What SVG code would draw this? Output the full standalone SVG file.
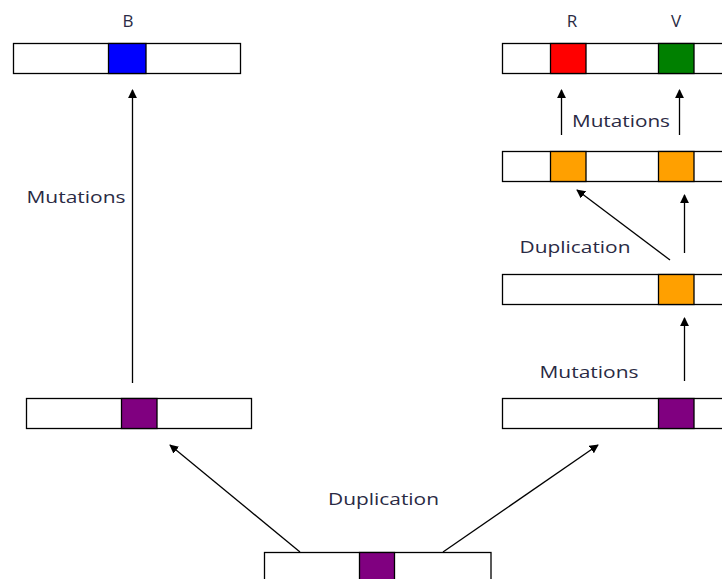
<svg xmlns="http://www.w3.org/2000/svg" width="722" height="579" viewBox="0 0 722 579">
<style>
.bar{fill:#fff;stroke:#000;stroke-width:1.3}
.cell{stroke:#000;stroke-width:1.3}
.lbl{font-family:"Open Sans","Noto Sans",sans-serif;font-size:17px;fill:#2a2a44}
.conn{stroke:#000;stroke-width:1.3;fill:none;marker-end:url(#ah)}
</style>
<defs>
<marker id="ah" viewBox="0 0 10 10" refX="9" refY="5" markerWidth="9" markerHeight="9" markerUnits="userSpaceOnUse" orient="auto">
<path d="M0,0 L10,5 L0,10 z" fill="#000"/>
</marker>
</defs>
<rect width="722" height="579" fill="#fff"/>
<g id="connectors">
<line class="conn" x1="132.5" y1="383" x2="132.5" y2="90"/>
<line class="conn" x1="300" y1="552" x2="170" y2="445"/>
<line class="conn" x1="443" y1="552" x2="598" y2="445"/>
<line class="conn" x1="684.5" y1="381" x2="684.5" y2="318"/>
<line class="conn" x1="684.5" y1="253" x2="684.5" y2="195"/>
<line class="conn" x1="670" y1="260" x2="577" y2="190"/>
<line class="conn" x1="561.5" y1="135" x2="561.5" y2="90"/>
<line class="conn" x1="679.5" y1="135" x2="679.5" y2="90"/>
</g>
<g id="gene-B">
<rect class="bar" x="13.5" y="43.5" width="227" height="30"/>
<rect class="cell" x="108.5" y="43.5" width="37.5" height="30" fill="#0000ff"/>
<text class="lbl" x="128" y="27" text-anchor="middle">B</text>
</g>
<g id="gene-RV">
<rect class="bar" x="502.5" y="43.5" width="230" height="30"/>
<rect class="cell" x="550.5" y="43.5" width="35.5" height="30" fill="#ff0000"/>
<rect class="cell" x="658.5" y="43.5" width="35.5" height="30" fill="#008000"/>
<text class="lbl" x="572" y="27" text-anchor="middle">R</text>
<text class="lbl" x="676" y="27" text-anchor="middle">V</text>
</g>
<g id="gene-dup-orange">
<rect class="bar" x="502.5" y="151.5" width="230" height="30"/>
<rect class="cell" x="550.5" y="151.5" width="35.5" height="30" fill="#ffa000"/>
<rect class="cell" x="658.5" y="151.5" width="35.5" height="30" fill="#ffa000"/>
</g>
<g id="gene-orange">
<rect class="bar" x="502.5" y="274.5" width="230" height="30"/>
<rect class="cell" x="658.5" y="274.5" width="35.5" height="30" fill="#ffa000"/>
</g>
<g id="gene-right-purple">
<rect class="bar" x="502.5" y="398.5" width="230" height="30"/>
<rect class="cell" x="658.5" y="398.5" width="35.5" height="30" fill="#800080"/>
</g>
<g id="gene-left-purple">
<rect class="bar" x="26.5" y="398.5" width="225" height="30"/>
<rect class="cell" x="121.5" y="398.5" width="35.5" height="30" fill="#800080"/>
</g>
<g id="gene-origin">
<rect class="bar" x="264.5" y="552.5" width="226.5" height="40"/>
<rect class="cell" x="359.5" y="552.5" width="35" height="40" fill="#800080"/>
</g>
<g id="labels">
<text class="lbl" x="26.5" y="202.5" textLength="99" lengthAdjust="spacingAndGlyphs">Mutations</text>
<text class="lbl" x="572" y="127" textLength="98" lengthAdjust="spacingAndGlyphs">Mutations</text>
<text class="lbl" x="519.5" y="252.5" textLength="111" lengthAdjust="spacingAndGlyphs">Duplication</text>
<text class="lbl" x="539.5" y="377.5" textLength="99" lengthAdjust="spacingAndGlyphs">Mutations</text>
<text class="lbl" x="328" y="505" textLength="111" lengthAdjust="spacingAndGlyphs">Duplication</text>
</g>
</svg>
